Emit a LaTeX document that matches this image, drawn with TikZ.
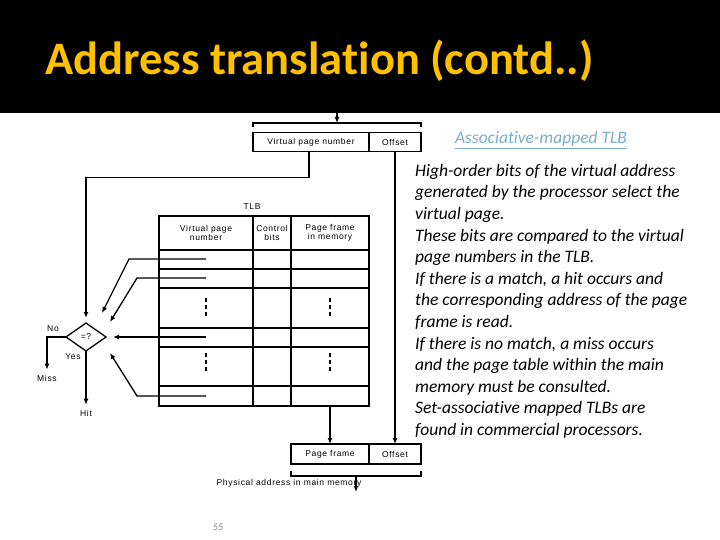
\documentclass[tikz,border=0pt]{standalone}
\usepackage{fontspec}
\setmainfont{Carlito}[Ligatures=NoCommon]
\newfontfamily\figfont[LetterSpace=8]{Liberation Sans}
\usetikzlibrary{shapes.geometric,arrows.meta}
\definecolor{titleyellow}{RGB}{255,192,0}
\definecolor{linkblue}{RGB}{122,174,198}

\begin{document}
\begin{tikzpicture}[x=1pt,y=-1pt,
  lw/.style={line width=1.3pt},
  arr/.style={lw,-{Latex[length=6pt,width=5pt]}},
  lbl/.style={font=\figfont\fontsize{8.5}{9.5}\selectfont,inner sep=0pt,align=center},
  cell/.style={lbl,draw,lw,outer sep=0pt}]
\useasboundingbox (0,0) rectangle (720,540);
\fill[black] (0,0) rectangle (720,113);
\node[anchor=base west,inner sep=0pt,text=titleyellow,font=\bfseries\fontsize{46.5}{50}\selectfont] (title) at (45,75) {Address translation (contd..)};

\node[cell,minimum width=116pt,minimum height=19pt] (vpn) at (311,142) {Virtual page number};
\node[cell,minimum width=52pt,minimum height=19pt,anchor=west] (voff) at (vpn.east) {Offset};
\draw[lw] (253,127) -- (253,123) -- (421,123) -- (421,127);
\coordinate (band) at (337,113);
\coordinate (vbr) at (337,123);
\draw[arr] (band) -- (vbr);

\node[lbl] (tlb) at (252,207) {TLB};
\draw[lw] (159,216) rectangle (369,406);
\foreach \y in {250,269,288,328,347,386}
  \draw[lw] (159,\y) -- (369,\y);
\foreach \x in {253,291}
  \draw[lw] (\x,216) -- (\x,406);
\node[lbl] (hvpn) at (206,233) {Virtual page\\number};
\node[lbl] (hctl) at (272,233) {Control\\bits};
\node[lbl] (hpf) at (330,233) {Page frame\\in memory};
\foreach \x in {206,330}
  \foreach \y in {300,307,314,355,362,369}
    \fill (\x-1.3,\y-1.6) rectangle (\x+1.3,\y+1.6);

\node[lbl,draw,lw,diamond,minimum width=40pt,minimum height=28pt,outer sep=0pt] (cmp) at (86,337) {=?};
\coordinate (r1) at (206,259);
\coordinate (r2) at (206,278);
\coordinate (r3) at (206,337);
\coordinate (r4) at (206,396);
\coordinate (t1) at (102,313);
\coordinate (t2) at (110,322);
\coordinate (t4) at (110,353);
\draw[arr] (r1) -- ++(-77,0) -- (t1);
\draw[arr] (r2) -- ++(-69,0) -- (t2);
\draw[arr] (r3) -- ([xshift=7pt]cmp.east);
\draw[arr] (r4) -- ++(-69,0) -- (t4);
\draw[arr] ([xshift=-2pt]vpn.south) -- ++(0,26) -| ([yshift=5pt]cmp.north);

\node[lbl] (no) at (53,329) {No};
\node[lbl] (yes) at (73,357) {Yes};
\node[lbl] (miss) at (47,378) {Miss};
\node[lbl] (hit) at (86,413) {Hit};
\draw[arr] (cmp.west) -| ([yshift=5pt]miss.north);
\draw[arr] (cmp.south) -- ([yshift=5pt]hit.north);

\node[cell,minimum width=78pt,minimum height=20pt] (pf) at (330,454) {Page frame};
\node[cell,minimum width=52pt,minimum height=20pt,anchor=west] (poff) at (pf.east) {Offset};
\coordinate (tlbout) at (330,406);
\draw[arr] (tlbout) -- (pf.north);
\draw[arr] (voff.south) -- (poff.north);
\draw[lw] (291,471) -- (291,476) -- (421,476) -- (421,471);
\node[lbl] (phys) at (289,483) {Physical address in main memory};
\coordinate (pbr) at (356,476);
\coordinate (pa) at (356,492);
\draw[arr] (pbr) -- (pa);

\node[anchor=base,inner sep=0pt,text=linkblue,font=\itshape\fontsize{17.5}{20}\selectfont] (head) at (541,144) {\underline{Associative-mapped TLB}};
\node[anchor=north west,align=left,inner sep=0pt,font=\itshape\fontsize{17.5}{21.6}\selectfont] (desc) at (415,164)
  {High-order bits of the virtual address\\
   generated by the processor select the\\
   virtual page.\\
   These bits are compared to the virtual\\
   page numbers in the TLB.\\
   If there is a match, a hit occurs and\\
   the corresponding address of the page\\
   frame is read.\\
   If there is no match, a miss occurs\\
   and the page table within the main\\
   memory must be consulted.\\
   Set-associative mapped TLBs are\\
   found in commercial processors.};
\node[text=gray,font=\itshape\fontsize{10}{12}\selectfont] (pg) at (218,527) {55};
\end{tikzpicture}
\end{document}
